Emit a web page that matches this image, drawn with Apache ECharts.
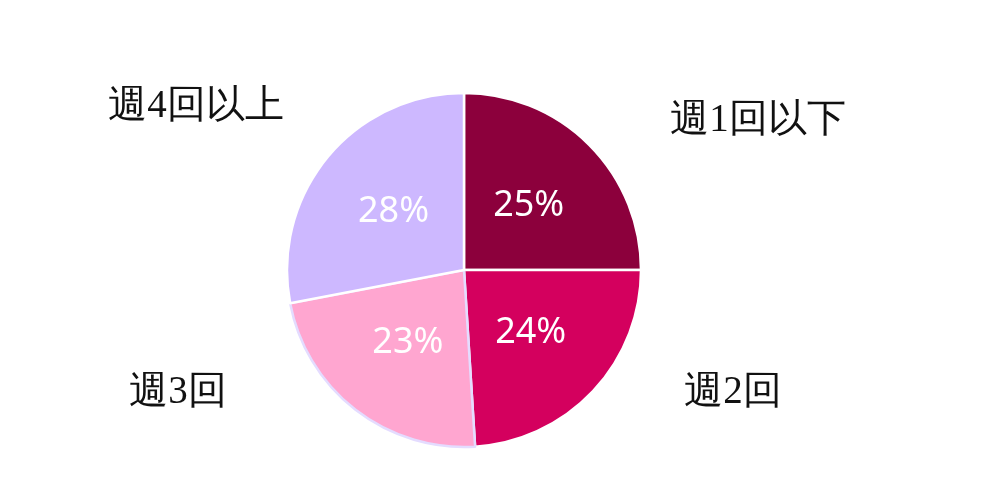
<!DOCTYPE html>
<html><head><meta charset="utf-8">
<script src="https://cdn.jsdelivr.net/npm/echarts@6/dist/echarts.min.js"></script>
<style>html,body{margin:0;padding:0;background:#fff}#c{width:1000px;height:501px}</style>
</head><body><div id="c"></div>
<script>
const categories = ['週1回以下', '週2回', '週3回', '週4回以上'];
const values = [25, 24, 23, 28];
const colors = ['#8C003C', '#D4005E', '#FFA6D0', '#CDB8FF'];

const chart = echarts.init(document.getElementById('c'));
const outsidePos = [[758, 121], [733, 393], [178, 393], [196, 107]];
const data = categories.map((n, i) => ({
  name: n, value: values[i],
  itemStyle: { color: colors[i], borderColor: i === 2 ? '#E4DCFF' : '#FFFFFF', borderWidth: 2.5 }
}));
chart.setOption({
  animation: false,
  series: [{
    type: 'pie', center: [464, 270], radius: [0, 177], startAngle: 90, clockwise: true,
    data: data,
    label: { show: true, position: 'inner', formatter: '{d}%', color: '#FFFFFF',
      fontFamily: 'Noto Sans', fontSize: 36 },
    labelLine: { show: false }, emphasis: { disabled: true }
  }, {
    type: 'pie', center: [464, 270], radius: [0, 177], startAngle: 90, clockwise: true,
    silent: true,
    data: categories.map((n, i) => ({ name: n, value: values[i], itemStyle: { color: 'transparent' } })),
    label: { show: true, position: 'outside', formatter: '{b}', color: '#111',
      fontFamily: 'serif', fontSize: 39 },
    labelLine: { show: false },
    labelLayout: function (p) {
      const pt = outsidePos[p.dataIndex];
      return { x: pt[0], y: pt[1], align: 'center', verticalAlign: 'middle' };
    }
  }]
});
</script></body></html>
